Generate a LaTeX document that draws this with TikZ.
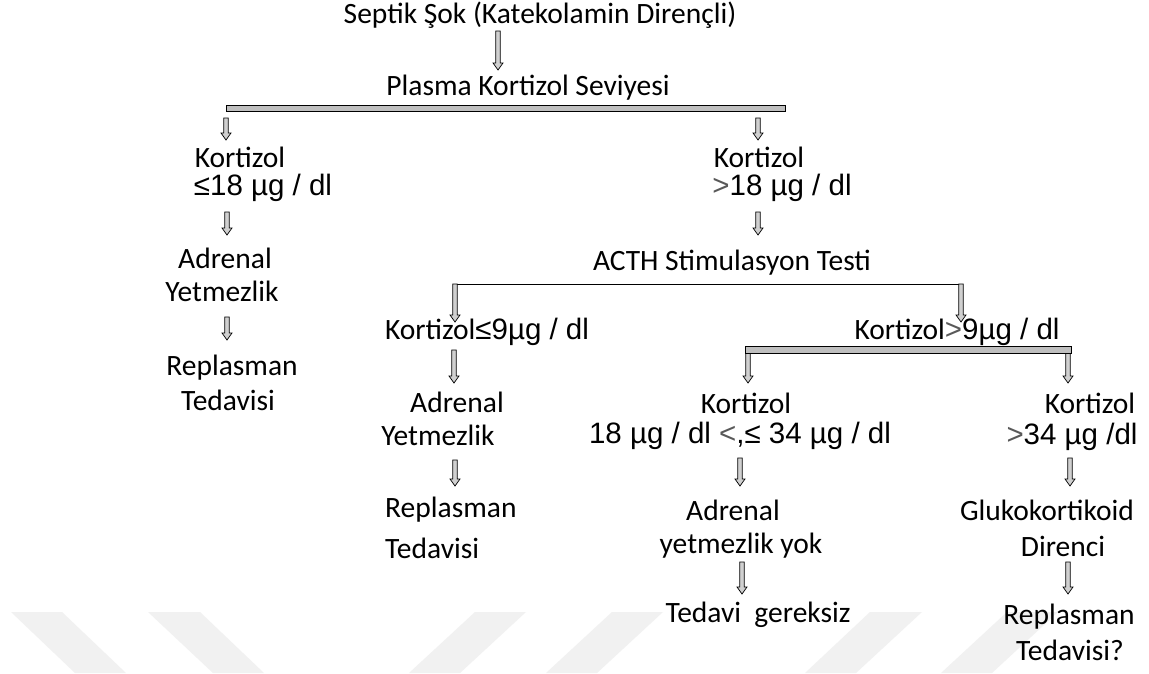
\documentclass[tikz,border=0pt]{standalone}
\usepackage{fontspec}
\setmainfont{Carlito}
\newfontfamily\arial{Liberation Sans}
\usetikzlibrary{calc}
\definecolor{wm}{HTML}{F1F1F1}
\definecolor{gt}{HTML}{595959}
\definecolor{arrfill}{HTML}{D0D0D0}
\newcommand\gr[1]{\textcolor{gt}{#1}}
\newcommand\barrow[2]{%
  \path let \p1=(#1), \p2=(#2) in
    [fill=arrfill, draw=black, line width=0.7pt, line join=miter]
    (\x1-2.2pt,\y1) -- (\x1+2.2pt,\y1) -- (\x1+2.2pt,\y2+7pt) -- (\x1+5pt,\y2+7pt)
    -- (\x1,\y2) -- (\x1-5pt,\y2+7pt) -- (\x1-2.2pt,\y2+7pt) -- cycle;}
\begin{document}
\begin{tikzpicture}[x=1pt,y=-1pt,
  txt/.style={inner sep=0pt, anchor=center, font=\fontsize{29.5}{35}\selectfont},
  num/.style={inner sep=0pt, anchor=center, font=\arial\fontsize{29.5}{35}\selectfont},
  barbox/.style={fill=gray!50, draw=black, line width=0.8pt},
  stripe/.style={fill=wm}]
\useasboundingbox[fill=white] (0,0) rectangle (1149,673);
% watermark
\fill[stripe] (11,612) -- (62,612) -- (126,673) -- (75,673) -- cycle;
\fill[stripe] (148,612) -- (200,612) -- (264,673) -- (213,673) -- cycle;
\fill[stripe] (475,612) -- (526,612) -- (460,673) -- (409,673) -- cycle;
\fill[stripe] (612,612) -- (663,612) -- (597,673) -- (546,673) -- cycle;
\fill[stripe] (870,612) -- (922,612) -- (856,673) -- (805,673) -- cycle;
\fill[stripe] (1007,612) -- (1058,612) -- (992,673) -- (941,673) -- cycle;
% texts
\node[txt] (t1) at (540,15) {Septik Şok (Katekolamin Dirençli)};
\node[txt] (t2) at (528,88) {Plasma Kortizol Seviyesi};
\node[txt] (l1a) at (240,157) {Kortizol};
\node[num] (l1b) at (263,188) {≤18 µg / dl};
\node[txt] (r1a) at (759,157) {Kortizol};
\node[num] (r1b) at (782,188) {\gr{>}18 µg / dl};
\node[txt] (l2a) at (225,258) {Adrenal};
\node[txt] (l2b) at (222,291) {Yetmezlik};
\node[txt] (l3a) at (232,368) {Replasman};
\node[txt] (l3b) at (228,400) {Tedavisi};
\node[txt] (acth) at (732,263) {ACTH Stimulasyon Testi};
\node[txt] (k9a) at (487,332) {Kortizol{\arial\fontsize{29.5}{35}\selectfont≤9µg / dl}};
\node[txt] (k9b) at (957,332) {Kortizol{\arial\fontsize{29.5}{35}\selectfont\gr{>}9µg / dl}};
\node[txt] (a2a) at (457,402) {Adrenal};
\node[txt] (a2b) at (438,435) {Yetmezlik};
\node[txt, anchor=west] (r2a) at (385,510) {Replasman};
\node[txt, anchor=west] (r2b) at (385,548) {Tedavisi};
\node[txt] (m1a) at (746,403) {Kortizol};
\node[num] (m1b) at (740,436) {18 µg / dl \gr{<},≤ 34 µg / dl};
\node[txt] (m2a) at (733,510) {Adrenal};
\node[txt] (m2b) at (741,546) {yetmezlik yok};
\node[txt] (m3) at (758,615) {Tedavi\ \ gereksiz};
\node[txt] (g1a) at (1090,403) {Kortizol};
\node[num] (g1b) at (1072,437) {\gr{>}34 µg /dl};
\node[txt] (g2a) at (1047,510) {Glukokortikoid};
\node[txt] (g2b) at (1063,546) {Direnci};
\node[txt] (g3a) at (1069,617) {Replasman};
\node[txt] (g3b) at (1070,650) {Tedavisi?};
% bars and lines
\draw[barbox] (226,105) rectangle (785,111);
\draw[black, line width=1pt] (455,284) coordinate (acl) -- (961,284) coordinate (acr);
\coordinate (b2l) at (748,350);
\coordinate (b2r) at (1068,350);
% arrow coordinates
\coordinate (s1) at (498,31);   \coordinate (e1) at (498,70);
\coordinate (s2) at (226,118);  \coordinate (e2) at (226,140);
\coordinate (s3) at (758,118);  \coordinate (e3) at (758,140);
\coordinate (s4) at (227,212);  \coordinate (e4) at (227,235);
\coordinate (s5) at (758,212);  \coordinate (e5) at (758,235);
\coordinate (s6) at (227,317);  \coordinate (e6) at (227,340);
\coordinate (e7) at (455,322);  \coordinate (e8) at (961,322);
\coordinate (s9) at (454,350);  \coordinate (e9) at (454,383);
\coordinate (e10) at (748,383); \coordinate (e11) at (1068,383);
\coordinate (s12) at (455,460); \coordinate (e12) at (455,486);
\coordinate (s13) at (740,458); \coordinate (e13) at (740,486);
\coordinate (s14) at (1070,458);\coordinate (e14) at (1070,486);
\coordinate (s15) at (742,562); \coordinate (e15) at (742,594);
\coordinate (s16) at (1068,562);\coordinate (e16) at (1068,594);
\barrow{s1}{e1}
\barrow{s2}{e2}
\barrow{s3}{e3}
\barrow{s4}{e4}
\barrow{s5}{e5}
\barrow{s6}{e6}
\barrow{acl}{e7}
\barrow{acr}{e8}
\barrow{s9}{e9}
\barrow{b2l}{e10}
\barrow{b2r}{e11}
\draw[barbox] (745,346) rectangle (1071,353);
\barrow{s12}{e12}
\barrow{s13}{e13}
\barrow{s14}{e14}
\barrow{s15}{e15}
\barrow{s16}{e16}
\end{tikzpicture}
\end{document}
